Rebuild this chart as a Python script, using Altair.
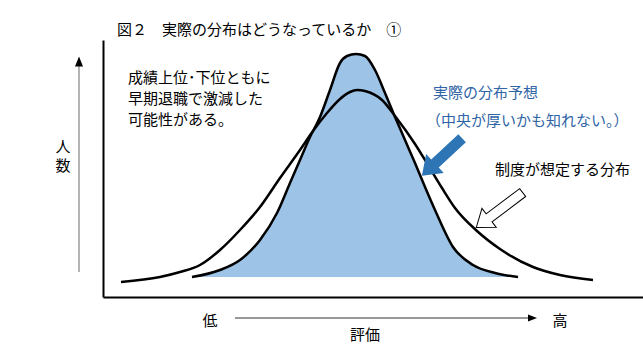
import altair as alt
import pandas as pd

FONT = "Noto Sans CJK JP"

# ---- data (abstract units: 評価 0-540, 人数 0-257) ----
wide_x = [18, 57, 77, 97, 117, 137, 157, 177, 197, 210, 224, 237, 247, 254, 262, 279, 292, 312, 325, 339, 352, 374, 397, 430, 457, 490]
wide_y = [15, 20, 25, 32, 47, 67, 90, 119, 147, 166, 184, 198, 205, 207, 206, 197, 181, 153, 132, 109, 89, 66, 48, 30, 22, 17]

narrow_x = [89, 117, 137, 157, 174, 187, 197, 207, 217, 227, 237, 244, 253, 262, 272, 282, 292, 302, 312, 322, 332, 350, 370, 392, 415]
narrow_y = [20, 27, 37, 57, 84, 114, 137, 160, 180, 207, 234, 241, 243, 241, 227, 204, 180, 157, 134, 110, 87, 50, 32, 24, 20]
narrow_base = 20

title_text = "図２　実際の分布はどうなっているか　①"
note_lines = ["成績上位･下位ともに", "早期退職で激減した", "可能性がある。"]
actual_lines = ["実際の分布予想", "（中央が厚いかも知れない。）"]
system_label = "制度が想定する分布"
y_label = ["人", "数"]
x_low, x_high, x_label = "低", "高", "評価"

BLUE_FILL = "#9DC3E6"
BLUE = "#2E75B6"
BLUE_TEXT = "#2F64A6"

wide = pd.DataFrame({"評価": wide_x, "人数": wide_y})
narrow = pd.DataFrame({"評価": narrow_x, "人数": narrow_y})

axis_style = dict(domainColor="black", domainWidth=2, ticks=False, labels=False,
                  grid=False, title=None)
X = alt.X("評価:Q", scale=alt.Scale(domain=[0, 540], nice=False, zero=False),
          axis=alt.Axis(**axis_style))
Y = alt.Y("人数:Q", scale=alt.Scale(domain=[0, 257], nice=False, zero=False),
          axis=alt.Axis(**axis_style))

area = alt.Chart(narrow).mark_area(interpolate="monotone", color=BLUE_FILL, opacity=1).encode(
    x=X, y=Y, y2=alt.datum(narrow_base))
narrow_line = alt.Chart(narrow).mark_line(interpolate="monotone", color="black", strokeWidth=2.5).encode(x=X, y=Y)
wide_line = alt.Chart(wide).mark_line(interpolate="monotone", color="black", strokeWidth=2.5).encode(x=X, y=Y)

one = pd.DataFrame({"k": [0]})


def label(text, x, y, size=15, color="black", align="left", weight="normal"):
    return alt.Chart(pd.DataFrame({"t": [text]})).mark_text(
        align=align, baseline="middle", fontSize=size, font=FONT, color=color,
        fontWeight=weight).encode(x=alt.value(x), y=alt.value(y), text="t:N")


def shape(path, x, y, size, angle=0, fill="black", stroke="black", sw=0):
    return alt.Chart(one).mark_point(
        shape=path, size=size, angle=angle, filled=True, fill=fill, stroke=stroke,
        strokeWidth=sw, opacity=1, fillOpacity=1, strokeOpacity=1).encode(
        x=alt.value(x), y=alt.value(y))


def rule(x, y, x2=None, y2=None, color="black", width=1):
    enc = dict(x=alt.value(x), y=alt.value(y))
    if x2 is not None:
        enc["x2"] = alt.value(x2)
    if y2 is not None:
        enc["y2"] = alt.value(y2)
    return alt.Chart(one).mark_rule(color=color, strokeWidth=width).encode(**enc)


ARROW_BLUE = "M -1 -0.2 L 0.35 -0.2 L 0.35 -0.47 L 1 0 L 0.35 0.47 L 0.35 0.2 L -1 0.2 Z"
ARROW_HOLLOW = "M -1 -0.17 L 0.45 -0.17 L 0.45 -0.41 L 1 0 L 0.45 0.41 L 0.45 0.17 L -1 0.17 Z"
HEAD_UP = "M 0 -1 L -0.8 1 L 0.8 1 Z"
HEAD_RIGHT = "M 1 0 L -1 -0.8 L -1 0.8 Z"

layers = [
    area, narrow_line, wide_line,
    # y-direction arrow
    rule(-24, 232, y2=24, color="#8C8C8C", width=1.3),
    shape(HEAD_UP, -24, 21.5, 100),
    label(y_label[0], -40, 107, align="center"),
    label(y_label[1], -40, 126, align="center"),
    # x-direction arrow
    rule(132, 278, x2=428, color="#333333", width=1),
    shape(HEAD_RIGHT, 429.5, 278, 81),
    label(x_low, 107, 281, align="center"),
    label(x_high, 457, 281, align="center"),
    label(x_label, 262, 295, align="center"),
    # title
    label(title_text, 14, -10),
    # notes
    label(note_lines[0], 25, 38),
    label(note_lines[1], 25, 59),
    label(note_lines[2], 25, 80),
    label(actual_lines[0], 330, 53, color=BLUE_TEXT),
    label(actual_lines[1], 323, 81, color=BLUE_TEXT),
    label(system_label, 392, 130),
    # arrows
    shape(ARROW_BLUE, 339, 117, 3025, angle=137, fill=BLUE, stroke=BLUE, sw=0),
    shape(ARROW_HOLLOW, 396.5, 170, 3364, angle=143, fill="white", stroke="black", sw=1),
]

chart = alt.layer(*layers).properties(
    width=540, height=257,
    padding={"left": 103, "top": 40, "right": 0, "bottom": 57},
    autosize="none",
    background="white",
).configure_view(stroke=None)

chart.save("out.html", embed_options={"renderer": "svg", "actions": False})
